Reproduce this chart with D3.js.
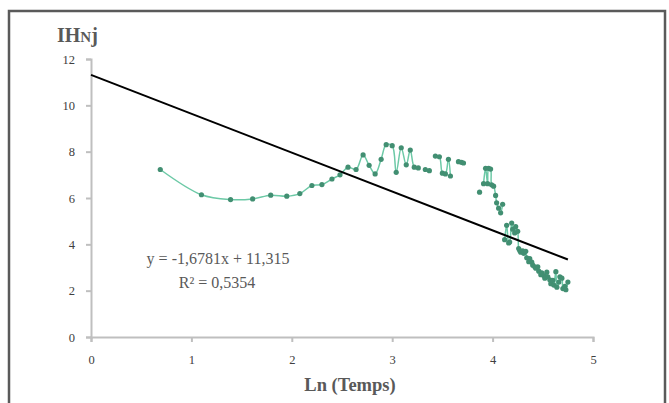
<!DOCTYPE html>
<html><head><meta charset="utf-8">
<script src="https://cdn.jsdelivr.net/npm/d3@7"></script>
<style>
html,body{margin:0;padding:0;background:#fff;}
svg{display:block;}
text{font-family:"Liberation Serif","Times New Roman",serif;}
</style></head>
<body>
<svg id="c" width="669" height="403"></svg>
<script>
// ---- data ----
const xValues = [
 0.69,1.10,1.39,1.61,1.79,1.95,2.08,2.20,2.30,2.40,2.48,2.56,2.64,2.71,2.77,2.83,2.89,2.94,3.00,3.04,3.09,3.14,3.18,3.22,3.26,
 null,
 3.33,3.37,
 null,
 3.43,3.47,3.50,3.53,3.56,3.58,
 null,
 3.66,3.69,3.71,
 null,
 3.87,
 null,
 3.91,3.93,3.95,3.96,3.98,3.99,4.01,4.03,4.04,4.06,4.08,4.10,
 null,
 4.12,4.14,4.16,4.17,4.19,4.20,4.22,4.23,4.25,4.26,4.27,4.28,4.30,4.31,4.33,4.34,4.36,4.37,4.39,4.40,
 4.42,4.43,4.45,4.46,4.48,4.49,4.51,4.52,4.54,4.55,4.57,4.58,4.60,4.61,4.63,4.64,4.66,4.67,4.69,4.70,4.72,4.73,4.75
];
const yValues = [
 7.23,6.14,5.93,5.96,6.12,6.08,6.19,6.54,6.58,6.82,7.00,7.33,7.23,7.86,7.41,7.04,7.67,8.30,8.26,7.11,8.17,7.43,8.07,7.33,7.30,
 null,
 7.23,7.18,
 null,
 7.81,7.78,7.07,7.04,7.67,6.95,
 null,
 7.57,7.54,7.51,
 null,
 6.25,
 null,
 6.62,7.28,6.62,7.28,7.25,6.57,6.51,6.11,5.79,5.56,5.36,5.73,
 null,
 4.20,4.82,4.06,4.10,4.92,4.65,4.49,4.77,4.56,3.82,3.73,3.66,3.72,3.61,3.70,3.42,3.25,3.38,3.23,3.10,
 3.03,2.97,3.03,2.84,2.69,2.77,2.65,2.54,2.80,2.60,2.47,2.30,2.45,2.24,2.82,2.15,2.37,2.60,2.54,2.09,2.19,2.04,2.37
];
const xTicks = [0,1,2,3,4,5];
const yTicks = [0,2,4,6,8,10,12];
const trendSlope = -1.6781;
const trendIntercept = 11.315;
const trendX = [0, 4.75];
const equationLines = ["y = -1,6781x + 11,315", "R² = 0,5354"];
const xTitle = "Ln (Temps)";

// ---- chart ----
const svg = d3.select("#c");
const x = d3.scaleLinear().domain([0,5]).range([91,593]);
const y = d3.scaleLinear().domain([0,12]).range([337,59]);

// frame
svg.append("rect").attr("x",9).attr("y",11).attr("width",656).attr("height",400)
  .attr("fill","none").attr("stroke","#5a5a5a").attr("stroke-width",2.5);

const axisColor = "#bfbfbf";
const xAxis = svg.append("g").attr("transform","translate(0,337)")
  .call(d3.axisBottom(x).tickValues(xTicks).tickSize(5).tickPadding(13).tickFormat(d3.format("d")));
const yAxis = svg.append("g").attr("transform","translate(91,0)")
  .call(d3.axisLeft(y).tickValues(yTicks).tickSize(5).tickPadding(11).tickFormat(d3.format("d")));
[xAxis,yAxis].forEach(g=>{
  g.select(".domain").attr("stroke",axisColor).attr("stroke-width",2);
  g.selectAll(".tick line").attr("stroke",axisColor).attr("stroke-width",2);
  g.selectAll(".tick text").attr("fill","#404040").attr("font-size",12.5)
    .attr("font-family","'Liberation Serif',serif");
});

// data
const pts = xValues.map((v,i)=>({x:v,y:yValues[i]}));
const line = d3.line().defined(d=>d.x!=null && d.y!=null).x(d=>x(d.x)).y(d=>y(d.y))
  .curve(d3.curveCatmullRom.alpha(0.5));
svg.append("path").datum(pts).attr("d",line).attr("fill","none")
  .attr("stroke","#6cc9a6").attr("stroke-width",1.5);
svg.append("g").selectAll("circle").data(pts.filter(d=>d.x!=null && d.y!=null)).join("circle")
  .attr("cx",d=>x(d.x)).attr("cy",d=>y(d.y)).attr("r",2.6).attr("fill","#428f72");

// trendline
svg.append("line")
  .attr("x1",x(trendX[0])).attr("y1",y(trendIntercept+trendSlope*trendX[0]))
  .attr("x2",x(trendX[1])).attr("y2",y(trendIntercept+trendSlope*trendX[1]))
  .attr("stroke","#000").attr("stroke-width",2);

// equation
svg.append("text").attr("x",218).attr("y",264).attr("text-anchor","middle")
  .attr("font-size",16).attr("fill","#595959").text(equationLines[0]);
svg.append("text").attr("x",217).attr("y",288).attr("text-anchor","middle")
  .attr("font-size",16).attr("fill","#595959").text(equationLines[1]);

// titles
const yt = svg.append("text").attr("x",57).attr("y",42).attr("font-size",20)
  .attr("font-weight","bold").attr("fill","#595959");
yt.append("tspan").text("IH");
yt.append("tspan").attr("font-size",15).text("N");
yt.append("tspan").text("j");
svg.append("text").attr("x",350).attr("y",391).attr("text-anchor","middle")
  .attr("font-size",18.5).attr("font-weight","bold").attr("fill","#595959").text(xTitle);
</script>
</body></html>
